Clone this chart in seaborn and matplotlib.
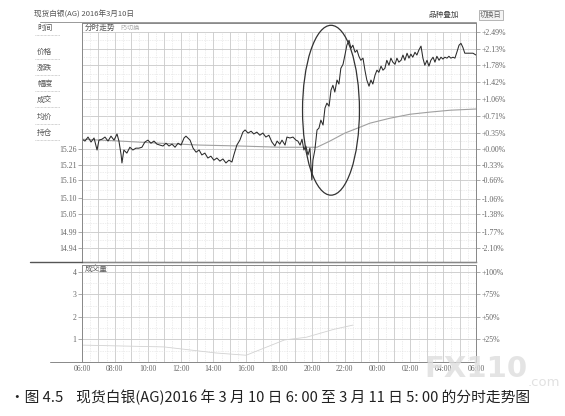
import matplotlib
matplotlib.use("Agg")
import numpy as np
import pandas as pd
import matplotlib.pyplot as plt
import seaborn as sns
from matplotlib.patches import Ellipse
from matplotlib.lines import Line2D

# ---------------- data ----------------
# minutes after 06:00 on 2016-03-10
minutes = [0, 11, 22, 33, 44, 55, 62, 73, 84, 95, 106, 117, 128, 135, 143, 146, 153, 164, 175, 186,
           197, 208, 219, 230, 241, 252, 263, 274, 285, 296, 307, 318, 329, 340, 351, 362, 373, 380,
           387, 395, 406, 417, 428, 438, 449, 460, 471, 482, 493, 504, 515, 526, 537, 548, 555, 566,
           577, 588, 596, 607, 618, 628, 639, 650, 661, 672, 683, 694, 705, 713, 723, 731, 742, 749,
           760, 771, 782, 789, 797, 804, 811, 818, 826, 833, 840, 844, 851, 859, 866, 873, 881, 888,
           895, 903, 910, 917, 924, 932, 939, 946, 954, 961, 968, 976, 983, 990, 998, 1005, 1012,
           1019, 1027, 1034, 1041, 1049, 1056, 1063, 1071, 1078, 1085, 1093, 1100, 1107, 1114, 1122,
           1129, 1136, 1144, 1151, 1158, 1166, 1173, 1180, 1188, 1195, 1202, 1209, 1217, 1224, 1231,
           1239, 1246, 1253, 1261, 1268, 1275, 1283, 1290, 1297, 1305, 1312, 1319, 1326, 1334, 1341,
           1348, 1356, 1363, 1370, 1378, 1385, 1392, 1399, 1414, 1429, 1440]
prices = [15.292, 15.286, 15.299, 15.283, 15.296, 15.257, 15.289, 15.292, 15.299, 15.286, 15.302,
          15.289, 15.309, 15.286, 15.241, 15.215, 15.257, 15.247, 15.266, 15.257, 15.263, 15.263,
          15.266, 15.283, 15.289, 15.279, 15.286, 15.276, 15.273, 15.270, 15.279, 15.270, 15.276,
          15.266, 15.279, 15.273, 15.296, 15.302, 15.296, 15.289, 15.263, 15.250, 15.257, 15.241,
          15.247, 15.231, 15.237, 15.224, 15.231, 15.221, 15.228, 15.215, 15.224, 15.218, 15.241,
          15.273, 15.289, 15.315, 15.322, 15.312, 15.318, 15.309, 15.315, 15.305, 15.312, 15.299,
          15.305, 15.283, 15.270, 15.286, 15.276, 15.289, 15.273, 15.299, 15.296, 15.299, 15.289,
          15.286, 15.273, 15.292, 15.257, 15.270, 15.241, 15.263, 15.160, 15.224, 15.257, 15.322,
          15.328, 15.354, 15.338, 15.393, 15.409, 15.399, 15.451, 15.467, 15.445, 15.484, 15.471,
          15.522, 15.535, 15.565, 15.597, 15.613, 15.587, 15.597, 15.574, 15.581, 15.561, 15.548,
          15.555, 15.516, 15.484, 15.464, 15.484, 15.471, 15.500, 15.516, 15.509, 15.529, 15.516,
          15.522, 15.548, 15.532, 15.555, 15.542, 15.535, 15.555, 15.542, 15.548, 15.565, 15.548,
          15.571, 15.555, 15.568, 15.558, 15.574, 15.565, 15.581, 15.594, 15.555, 15.532, 15.548,
          15.529, 15.548, 15.558, 15.542, 15.561, 15.548, 15.558, 15.552, 15.558, 15.555, 15.561,
          15.555, 15.558, 15.555, 15.574, 15.597, 15.603, 15.590, 15.571, 15.571, 15.571, 15.565]

avg_minutes = [0, 139, 285, 431, 577, 723, 859, 906, 961, 1016, 1052, 1125, 1199, 1272, 1345, 1440]
avg_prices = [15.292, 15.286, 15.279, 15.273, 15.270, 15.266, 15.266, 15.286, 15.312, 15.331,
              15.344, 15.360, 15.373, 15.380, 15.386, 15.390]

vol_minutes = [0, 300, 490, 600, 740, 820, 920, 990]
vol_values = [0.75, 0.67, 0.40, 0.30, 0.98, 1.10, 1.45, 1.64]

base_price = 15.26
pct_ticks = [2.49, 2.13, 1.78, 1.42, 1.06, 0.71, 0.35, 0.00, -0.33, -0.66, -1.06, -1.38, -1.77, -2.10]
left_ticks = [15.26, 15.21, 15.16, 15.10, 15.05, 14.99, 14.94]
time_ticks = [0, 120, 240, 360, 480, 600, 720, 840, 960, 1080, 1200, 1320, 1440]
time_labels = ["06:00", "08:00", "10:00", "12:00", "14:00", "16:00", "18:00", "20:00",
               "22:00", "00:00", "02:00", "04:00", "06:00"]
vol_ticks = [1, 2, 3, 4]
vol_right = ["+25%", "+50%", "+75%", "+100%"]
menu_items = ["时间", "价格", "涨跌", "幅度", "成交", "均价", "持仓"]
title_text = "现货白银(AG) 2016年3月10日"
caption = "•图 4.5    现货白银(AG)2016 年 3 月 10 日 6: 00 至 3 月 11 日 5: 00 的分时走势图"

# ---------------- style ----------------
sns.set_style("white")
plt.rcParams['font.family'] = ['Noto Sans CJK SC', 'DejaVu Sans']
plt.rcParams['axes.unicode_minus'] = False

W, H = 565, 416
fig = plt.figure(figsize=(W / 100, H / 100), dpi=100)

def fx(px):
    return px / W

def fy(py):
    return 1 - py / H

GRID = "#c9c9c9"
MINOR = "#dcdcdc"
TXT = "#666666"
num_font = dict(family=['Liberation Serif', 'DejaVu Serif'], fontsize=5.6, color=TXT)

L, R = 82, 476
ax = fig.add_axes([fx(L), fy(262), fx(R) - fx(L), fy(23) - fy(262)])
axv = fig.add_axes([fx(L), fy(362), fx(R) - fx(L), fy(265) - fy(362)])

pmin = base_price * (1 - 2.40 / 100)
pmax = base_price * (1 + 2.68 / 100)
grid_top = base_price * (1 + pct_ticks[0] / 100)

df = pd.DataFrame({"minute": minutes, "price": prices})
dfa = pd.DataFrame({"minute": avg_minutes, "price": avg_prices})
dfv = pd.DataFrame({"minute": vol_minutes, "value": vol_values})

# grid main
pct_pos = [base_price * (1 + p / 100) for p in pct_ticks]
for i, y in enumerate(pct_pos):
    ax.axhline(y, color=GRID, lw=0.6, zorder=0)
    if i + 1 < len(pct_pos):
        ax.axhline((y + pct_pos[i + 1]) / 2, color=MINOR, lw=0.5, ls=(0, (1, 1.5)), zorder=0)
for m in range(60, 1440, 60):
    ax.vlines(m, pmin, grid_top, color=GRID, lw=0.6, zorder=0)
    axv.axvline(m, color=GRID, lw=0.6, zorder=0)
for m in range(30, 1440, 60):
    ax.vlines(m, pmin, grid_top, color=MINOR, lw=0.5, ls=(0, (1, 1.5)), zorder=0)
    axv.axvline(m, color=MINOR, lw=0.5, ls=(0, (1, 1.5)), zorder=0)
for v in vol_ticks:
    axv.axhline(v, color=GRID, lw=0.6, zorder=0)
    axv.axhline(v - 0.5, color=MINOR, lw=0.5, ls=(0, (1, 1.5)), zorder=0)

sns.lineplot(data=dfa, x="minute", y="price", ax=ax, color="#a0a0a0", lw=0.8, zorder=2)
sns.lineplot(data=df, x="minute", y="price", ax=ax, color="#2a2a2a", lw=0.75, zorder=3)
sns.lineplot(data=dfv, x="minute", y="value", ax=axv, color="#d2d2d2", lw=0.6, zorder=2)

ax.set_xlim(0, 1440)
ax.set_ylim(pmin, pmax)
ax.set_xticks([])
ax.set_yticks(left_ticks)
ax.set_yticklabels([f"{v:.2f}" for v in left_ticks], **num_font)
ax.tick_params(axis='y', length=3, width=0.5, color="#888", pad=1)
ax.set_xlabel("")
ax.set_ylabel("")

axr = ax.twinx()
axr.set_ylim(pmin, pmax)
axr.set_yticks(pct_pos)
axr.set_yticklabels([f"{p:+.2f}%" for p in pct_ticks], **num_font)
axr.tick_params(axis='y', length=3, width=0.5, color="#888", pad=1)

axv.set_xlim(0, 1440)
axv.set_ylim(0, 4.31)
axv.set_yticks(vol_ticks)
axv.set_yticklabels([str(v) for v in vol_ticks], **num_font)
axv.tick_params(axis='y', length=3, width=0.5, color="#888", pad=1)
axv.set_xticks(time_ticks)
axv.set_xticklabels(time_labels, **num_font)
axv.tick_params(axis='x', length=0, pad=2)
axv.set_xlabel("")
axv.set_ylabel("")
axvr = axv.twinx()
axvr.set_ylim(0, 4.31)
axvr.set_yticks(vol_ticks)
axvr.set_yticklabels(vol_right, **num_font)
axvr.tick_params(axis='y', length=3, width=0.5, color="#888", pad=1)

for a in (ax, axr, axv, axvr):
    for s in a.spines.values():
        s.set_color("#8a8a8a")
        s.set_linewidth(0.7)
ax.spines['bottom'].set_color("#555")
ax.spines['bottom'].set_linewidth(1.0)

# ellipse highlighting the rally
ax.add_patch(Ellipse((910, 15.386), 208, 0.551, fill=False, ec="#333", lw=0.9, zorder=4))

# header texts inside panels
ax.text(8, pmax - (pmax - pmin) * 0.005, "分时走势", fontsize=5.5, color="#555", va="top", ha="left")
ax.text(140, pmax - (pmax - pmin) * 0.005, "F5切换", fontsize=4.5, color="#aaa", va="top", ha="left")
axv.text(8, 4.31, "成交量", fontsize=5.5, color="#555", va="top", ha="left")

# figure-level decorations
fig.text(fx(34), fy(15), title_text, fontsize=5.5, color="#555", va="center", ha="left")
fig.text(fx(428), fy(15), "品种叠加", fontsize=5.5, color="#444", va="center", ha="left")
fig.text(fx(480), fy(15), "切换日", fontsize=5.2, color="#666", va="center", ha="left",
         bbox=dict(boxstyle="square,pad=0.15", fc="#f4f4f4", ec="#999", lw=0.5))
fig.add_artist(Line2D([fx(40), fx(R)], [fy(21.5), fy(21.5)], color="#999", lw=0.7))
fig.add_artist(Line2D([fx(30), fx(L)], [fy(262), fy(262)], color="#555", lw=1.0))
fig.add_artist(Line2D([fx(50), fx(L)], [fy(362), fy(362)], color="#888", lw=0.7))

menu_y = [28, 52, 68, 84, 100, 117, 133]
for lab, yy in zip(menu_items, menu_y):
    fig.text(fx(37), fy(yy), lab, fontsize=5.5, color="#555", va="center", ha="left")
    fig.add_artist(Line2D([fx(35), fx(60)], [fy(yy + 7), fy(yy + 7)], color="#aaa",
                          lw=0.5, ls=(0, (1, 1))))

# watermark
fig.text(fx(424), fy(369), "FX110", fontsize=21, fontweight="bold", color="#dedede",
         alpha=0.8, va="center", ha="left", family="DejaVu Sans", zorder=10)
fig.text(fx(528), fy(382), ".com", fontsize=9.5, color="#dedede", alpha=0.9,
         va="center", ha="left", family="DejaVu Sans", zorder=10)

fig.text(fx(10), fy(397), caption, fontsize=10.6, color="#222", va="center", ha="left", zorder=11)

fig.savefig("out.png", dpi=100, facecolor="white")
